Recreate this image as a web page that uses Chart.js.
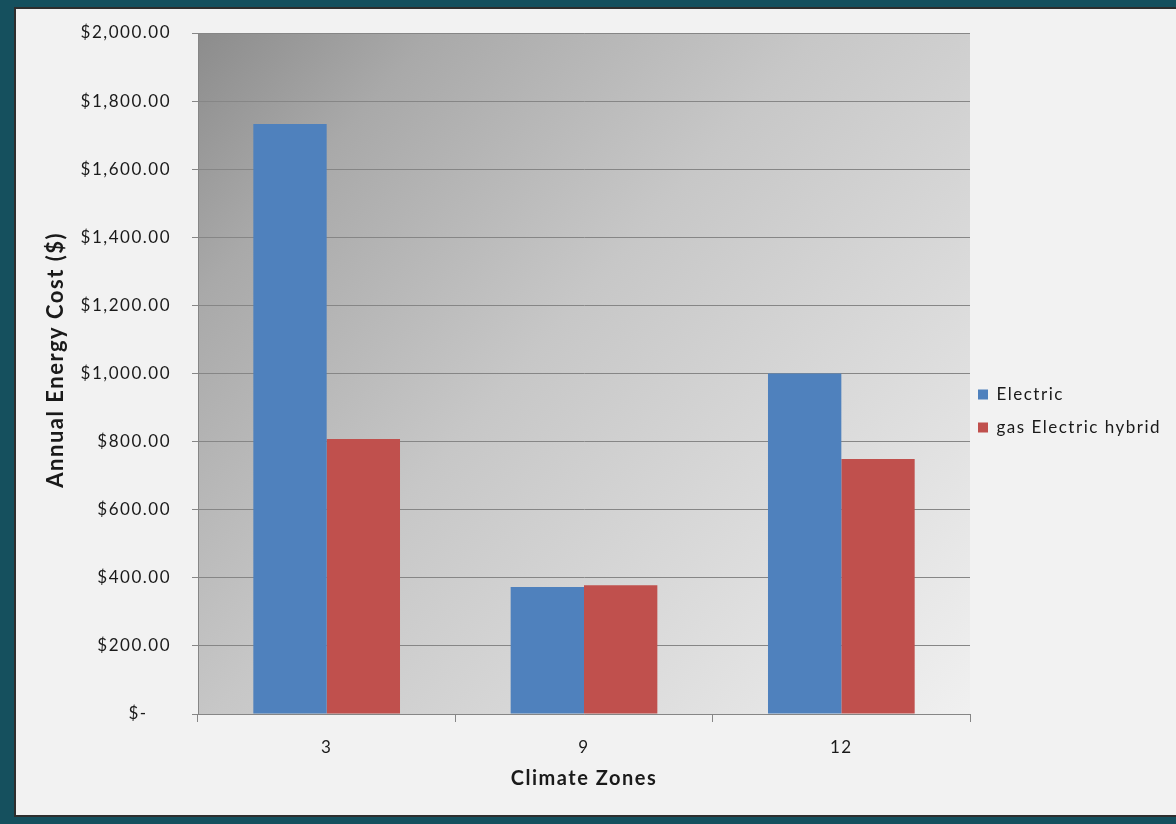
<!DOCTYPE html>
<html>
<head>
<meta charset="utf-8">
<script src="https://cdn.jsdelivr.net/npm/chart.js@4/dist/chart.umd.min.js"></script>
<style>
  html, body { margin: 0; padding: 0; background: #15505e; width: 1176px; height: 824px; overflow: hidden; }
  #panel {
    position: absolute; left: 14px; top: 7px; width: 1170px; height: 810px;
    background: #f2f2f2; border: 2px solid #2e2e2e; box-sizing: border-box;
  }
  #wrap { position: absolute; left: 0; top: 0; width: 1160px; height: 806px; }
</style>
</head>
<body>
<div id="panel"><div id="wrap"><canvas id="chart"></canvas></div></div>
<script>
// data
const zones = ['3', '9', '12'];
const electric = [1733, 373, 1000];
const hybrid = [808, 378, 749];
const seriesNames = ['Electric', 'gas Electric hybrid'];
const yMin = 0, yMax = 2000, yStep = 200;

const FONT = "Lato, 'Open Sans', sans-serif";
const SPACING = '1.5px';

function money(v) {
    if (v === 0) return '$-    ';
    return '$' + v.toLocaleString('en-US', { minimumFractionDigits: 2, maximumFractionDigits: 2 });
}

// the original text is rather loosely set, widen ours a little
const looseText = {
    id: 'looseText',
    beforeUpdate(chart) { chart.ctx.letterSpacing = SPACING; },
    beforeLayout(chart) { chart.ctx.letterSpacing = SPACING; },
    beforeDraw(chart) { chart.ctx.letterSpacing = SPACING; },
};

// diagonal grey gradient behind the plot area
const plotBackground = {
    id: 'plotBackground',
    beforeDraw(chart) {
        const { ctx, chartArea: a } = chart;
        const g = ctx.createLinearGradient(a.left, a.top, a.right, a.bottom);
        g.addColorStop(0, '#8c8c8c');
        g.addColorStop(0.17, '#a9a9a9');
        g.addColorStop(0.45, '#c7c7c7');
        g.addColorStop(0.75, '#dddddd');
        g.addColorStop(1, '#f0f0f0');
        ctx.save();
        ctx.fillStyle = g;
        ctx.fillRect(a.left, a.top, a.right - a.left, a.bottom - a.top);
        ctx.restore();
    }
};

// fixed legend column width, then nudge it to where the original has it
const legendPlace = {
    id: 'legendPlace',
    beforeLayout(chart) {
        const l = chart.legend;
        if (!l || l._wrapped) return;
        const fit = l.fit.bind(l);
        l.fit = function () { fit(); this.width = 206; };
        l._wrapped = true;
    },
    afterLayout(chart) {
        const l = chart.legend;
        if (!l) return;
        l.top -= 13; l.bottom -= 13;
        l.left -= 8; l.right -= 8;
    }
};

new Chart(document.getElementById('chart'), {
    type: 'bar',
    data: {
        labels: zones,
        datasets: [
            { label: seriesNames[0], data: electric, backgroundColor: '#4f81bd' },
            { label: seriesNames[1], data: hybrid, backgroundColor: '#c0504d' },
        ],
    },
    options: {
        responsive: true,
        maintainAspectRatio: false,
        animation: false,
        devicePixelRatio: 1,
        categoryPercentage: 0.57,
        barPercentage: 1.0,
        layout: { padding: { top: 24, right: 0, bottom: 0, left: 0 } },
        plugins: {
            tooltip: { enabled: false },
            legend: {
                position: 'right',
                labels: {
                    boxWidth: 10, boxHeight: 10, padding: 16,
                    color: '#1a1a1a',
                    font: { family: FONT, size: 17 },
                },
            },
        },
        scales: {
            x: {
                grid: { drawOnChartArea: false, drawTicks: true, tickLength: 8, color: '#868686', offset: true },
                border: { color: '#868686' },
                ticks: { color: '#1a1a1a', padding: 15, font: { family: FONT, size: 17 } },
                title: {
                    display: true, text: 'Climate Zones', color: '#1a1a1a',
                    font: { family: FONT, size: 20, weight: 'bold' },
                    padding: { top: 0, bottom: 24 },
                },
                afterFit(scale) { scale.height = 101; },
            },
            y: {
                min: yMin, max: yMax,
                grid: { color: '#868686', tickLength: 6 },
                border: { color: '#868686' },
                ticks: {
                    stepSize: yStep, color: '#1a1a1a', padding: 21,
                    font: { family: FONT, size: 17 },
                    callback: v => money(v),
                },
                title: {
                    display: true, text: '    Annual Energy Cost ($)', color: '#1a1a1a',
                    font: { family: FONT, size: 22, weight: 'bold' },
                    padding: { top: 27, bottom: 0 },
                },
                afterFit(scale) {
                    scale.width = 182;
                    scale.paddingTop = 0;
                    scale.paddingBottom = 0;
                },
            },
        },
    },
    plugins: [looseText, plotBackground, legendPlace],
});
</script>
</body>
</html>
